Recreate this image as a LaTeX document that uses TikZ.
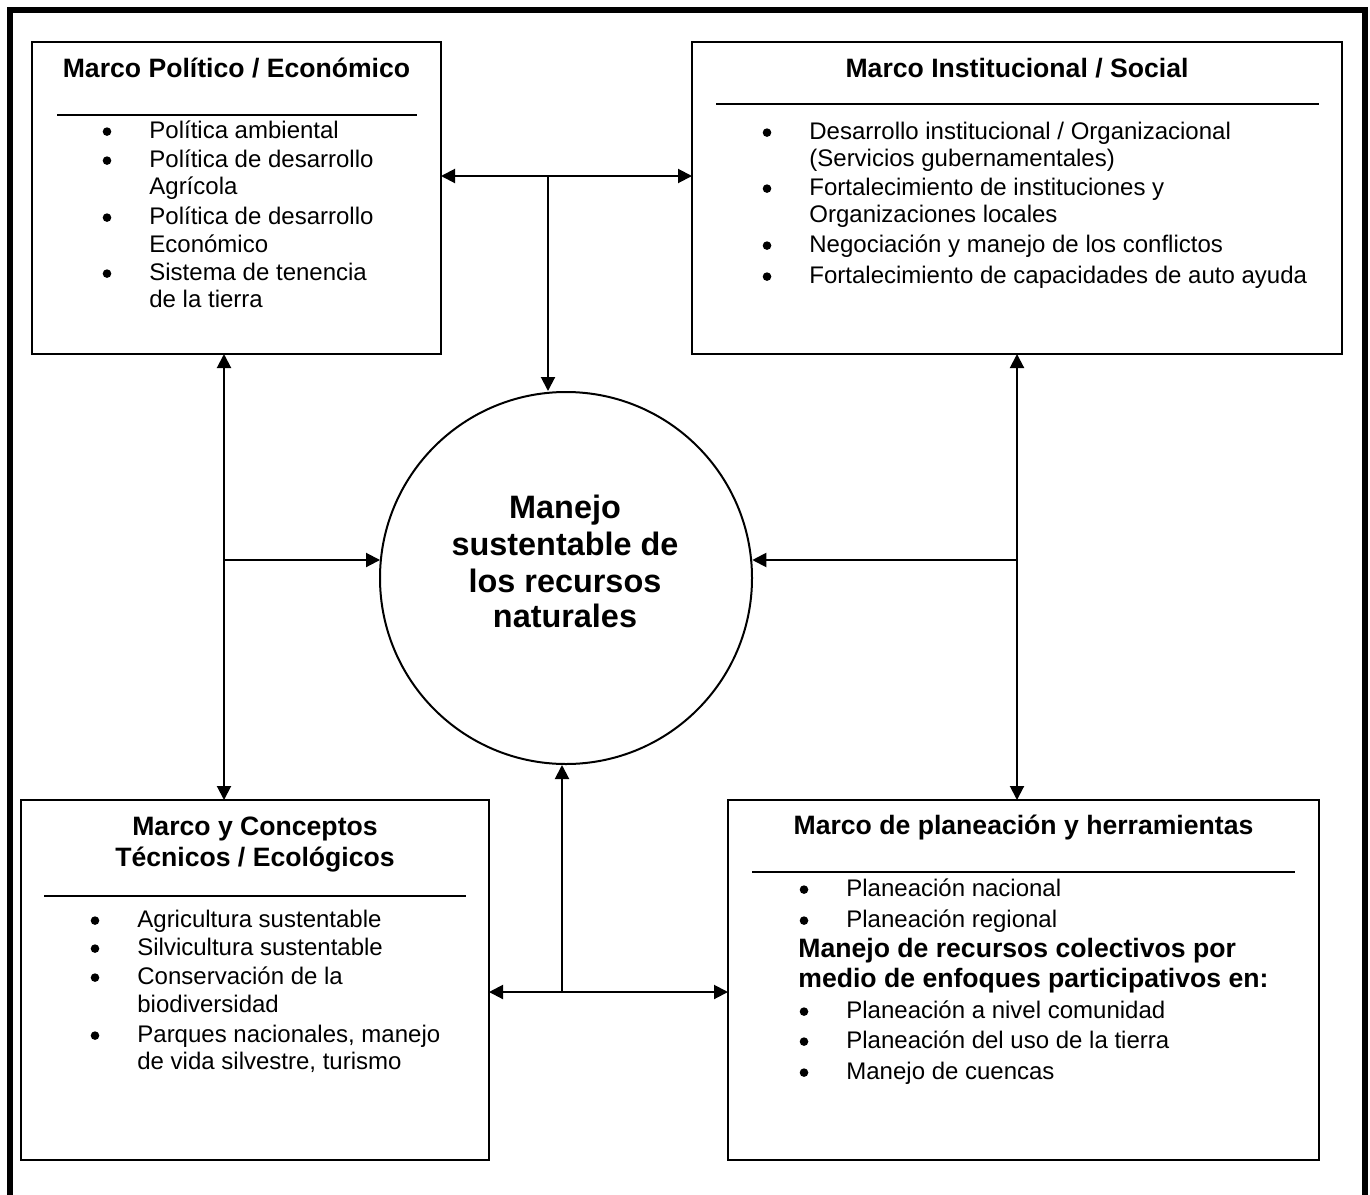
\documentclass[tikz,border=0pt]{standalone}
\usepackage{fontspec}
\setmainfont{Liberation Sans}
\usetikzlibrary{arrows.meta}

% one bulleted line of a list: name, x of text, baseline y, text
\newcommand\pointline[4]{%
  \node[txt] (#1) at (#2,#3) {#4};
  \node[dot] (#1-b) at ([xshift=-21pt, yshift=3.2pt]#1.base west) {};}
% continuation line of a list item (no bullet)
\newcommand\contline[4]{\node[txt] (#1) at (#2,#3) {#4};}

\begin{document}
\begin{tikzpicture}[x=0.5pt,y=-0.5pt,
  frame/.style={draw, line width=1pt, anchor=north west, inner sep=0pt, outer sep=0pt},
  rule/.style={line width=1pt},
  ttl/.style={anchor=base, inner sep=0pt, font=\fontsize{13.3}{15}\selectfont\bfseries},
  txt/.style={anchor=base west, inner sep=0pt, font=\fontsize{12}{14}\selectfont},
  btxt/.style={anchor=base west, inner sep=0pt, font=\fontsize{13.3}{15}\selectfont\bfseries},
  dot/.style={circle, fill=black, inner sep=0pt, minimum size=4.3pt},
  ctxt/.style={anchor=base, inner sep=0pt, font=\fontsize{16.2}{18.5}\selectfont\bfseries},
  link/.style={line width=1pt},
  tip/.style={-{Triangle[length=7pt,width=7pt]}},
  tips/.style={{Triangle[length=7pt,width=7pt]}-{Triangle[length=7pt,width=7pt]}},
]
\useasboundingbox (0,0) rectangle (1370,1194);
\fill[white] (0,0) rectangle (1370,1194);

% heavy outer frame, open at the bottom
\draw[line width=3pt] (10,1210) -- (10,10) -- (1365,10) -- (1365,1210);

% ---------- the four frameworks ----------
\node[frame, minimum width=204.5pt, minimum height=156pt] (pe) at (32,42) {};
\node[frame, minimum width=325pt,   minimum height=156pt] (is) at (692,42) {};
\node[frame, minimum width=234pt,   minimum height=180pt] (te) at (21,800) {};
\node[frame, minimum width=295.5pt, minimum height=180pt] (pl) at (728,800) {};

% central circle
\node[draw, circle, line width=1pt, inner sep=0pt, minimum size=186pt] (c) at (566,578) {};
\node[ctxt] (c1) at (565,518) {Manejo};
\node[ctxt] (c2) at (565,555) {sustentable de};
\node[ctxt] (c3) at (565,592) {los recursos};
\node[ctxt] (c4) at (565,627) {naturales};

% ---------- Marco Político / Económico ----------
\node[ttl] (pe-t) at (236.5,77) {Marco Político / Económico};
\draw[rule] (57,115) -- (417,115);
\pointline{pe1}{149}{138}{Política ambiental}
\pointline{pe2}{149}{167}{Política de desarrollo}
\contline{pe2c}{149}{194}{Agrícola}
\pointline{pe3}{149}{224}{Política de desarrollo}
\contline{pe3c}{149}{252}{Económico}
\pointline{pe4}{149}{280}{Sistema de tenencia}
\contline{pe4c}{149}{307}{de la tierra}

% ---------- Marco Institucional / Social ----------
\node[ttl] (is-t) at (1017,77) {Marco Institucional / Social};
\draw[rule] (716,104) -- (1319,104);
\pointline{is1}{809}{139}{Desarrollo institucional / Organizacional}
\contline{is1c}{809}{166}{(Servicios gubernamentales)}
\pointline{is2}{809}{195}{Fortalecimiento de instituciones y}
\contline{is2c}{809}{222}{Organizaciones locales}
\pointline{is3}{809}{252}{Negociación y manejo de los conflictos}
\pointline{is4}{809}{283}{Fortalecimiento de capacidades de auto ayuda}

% ---------- Marco y Conceptos Técnicos / Ecológicos ----------
\node[ttl] (te-t1) at (255,835) {Marco y Conceptos};
\node[ttl] (te-t2) at (255,866) {Técnicos / Ecológicos};
\draw[rule] (44,896) -- (466,896);
\pointline{te1}{137}{927}{Agricultura sustentable}
\pointline{te2}{137}{955}{Silvicultura sustentable}
\pointline{te3}{137}{984}{Conservación de la}
\contline{te3c}{137}{1012}{biodiversidad}
\pointline{te4}{137}{1042}{Parques nacionales, manejo}
\contline{te4c}{137}{1069}{de vida silvestre, turismo}

% ---------- Marco de planeación y herramientas ----------
\node[ttl] (pl-t) at (1023.5,834) {Marco de planeación y herramientas};
\draw[rule] (752,872) -- (1295,872);
\pointline{pl1}{846}{896}{Planeación nacional}
\pointline{pl2}{846}{927}{Planeación regional}
\node[btxt] (pl-h1) at (798,957) {Manejo de recursos colectivos por};
\node[btxt] (pl-h2) at (798,987) {medio de enfoques participativos en:};
\pointline{pl3}{846}{1018}{Planeación a nivel comunidad}
\pointline{pl4}{846}{1048}{Planeación del uso de la tierra}
\pointline{pl5}{846}{1079}{Manejo de cuencas}

% ---------- connectors ----------
\coordinate (jt) at (548,176);
\coordinate (jl) at (224,560);
\coordinate (jr) at (1017,560);
\coordinate (jb) at (562,992);

% top: between the upper frameworks and down to the circle
\draw[link, tips] (jt -| pe.east) -- (jt -| is.west);
\draw[link, tip] (jt) -- (jt |- c.north);

% left: upper-left to lower-left, branch to the circle
\draw[link, tips] (jl |- pe.south) -- (jl |- te.north);
\draw[link, tip] (jl) -- (jl -| c.174.45);

% right: upper-right to lower-right, branch to the circle
\draw[link, tips] (jr |- is.south) -- (jr |- pl.north);
\draw[link, tip] (jr) -- (jr -| c.5.55);

% bottom: between the lower frameworks and up to the circle
\draw[link, tips] (jb -| te.east) -- (jb -| pl.west);
\draw[link, tip] (jb) -- (jb |- c.south);
\end{tikzpicture}
\end{document}
